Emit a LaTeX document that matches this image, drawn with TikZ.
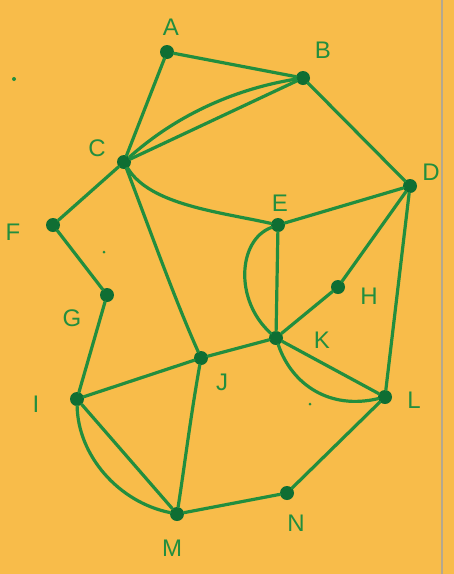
\documentclass[tikz,border=0pt]{standalone}
\usepackage{fontspec}
\setmainfont{Liberation Sans}
\definecolor{paper}{HTML}{F8BC4A}
\definecolor{ink}{HTML}{228E3E}
\definecolor{dotink}{HTML}{0F6E33}
\definecolor{edge}{HTML}{B5A88E}
\tikzset{
  vtx/.style={circle,fill=dotink,inner sep=0pt,minimum size=14pt},
  lab/.style={text=ink,font=\fontsize{24}{24}\selectfont,inner sep=0pt},
  ln/.style={draw=ink,line width=3.2pt,line cap=round},
  speck/.style={circle,fill=ink,inner sep=0pt,minimum size=4pt}
}
\begin{document}
\begin{tikzpicture}[x=1pt,y=-1pt]
\fill[paper] (0,0) rectangle (454,574);
\useasboundingbox (0,0) rectangle (454,574);
\draw[edge,line width=1.5pt] (442,0) -- (442,574);
% vertices
\node[vtx] (A) at (167,52) {};
\node[vtx] (B) at (303,78) {};
\node[vtx] (C) at (124,162) {};
\node[vtx] (D) at (410,186) {};
\node[vtx] (E) at (278,225) {};
\node[vtx] (F) at (53,225) {};
\node[vtx] (G) at (107,295) {};
\node[vtx] (H) at (338,287) {};
\node[vtx] (I) at (77,399) {};
\node[vtx] (J) at (201,358) {};
\node[vtx] (K) at (276,338) {};
\node[vtx] (L) at (385,397) {};
\node[vtx] (M) at (177,514) {};
\node[vtx] (N) at (287,493) {};
% edges
\begin{scope}[ln]
\draw (A) -- (B);
\draw (A) -- (C);
\draw (C) -- (B);
\draw (C) .. controls (180,112) and (240,88) .. (B);
\draw (B) -- (D);
\draw (C) -- (F);
\draw (C) .. controls (150,205) and (220,212) .. (E);
\draw (C) .. controls (150,230) and (175,300) .. (J);
\draw (D) -- (E);
\draw (D) -- (H);
\draw (D) -- (L);
\draw (E) -- (K);
\draw (E) .. controls (238,240) and (234,300) .. (K);
\draw (F) -- (G);
\draw (G) -- (I);
\draw (H) -- (K);
\draw (J) -- (K);
\draw (K) -- (L);
\draw (K) .. controls (292,385) and (330,410) .. (L);
\draw (I) -- (J);
\draw (I) -- (M);
\draw (I) .. controls (78,455) and (118,502) .. (M);
\draw (J) .. controls (190,420) and (184,470) .. (M);
\draw (M) -- (N);
\draw (N) -- (L);
\end{scope}
% labels
\node[lab] (lA) at (171,27) {A};
\node[lab] (lB) at (323,50) {B};
\node[lab] (lC) at (97,148) {C};
\node[lab] (lD) at (431,172) {D};
\node[lab] (lE) at (280,203) {E};
\node[lab] (lF) at (13,232) {F};
\node[lab] (lG) at (72,318) {G};
\node[lab] (lH) at (369,296) {H};
\node[lab] (lI) at (36,404) {I};
\node[lab] (lJ) at (222,382) {J};
\node[lab] (lK) at (322,340) {K};
\node[lab] (lL) at (414,400) {L};
\node[lab] (lM) at (172,548) {M};
\node[lab] (lN) at (296,523) {N};
% specks
\node[speck] (s1) at (14,79) {};
\node[speck,minimum size=3pt] (s2) at (104,252) {};
\node[speck,minimum size=3pt] (s3) at (310,404) {};
\end{tikzpicture}
\end{document}
